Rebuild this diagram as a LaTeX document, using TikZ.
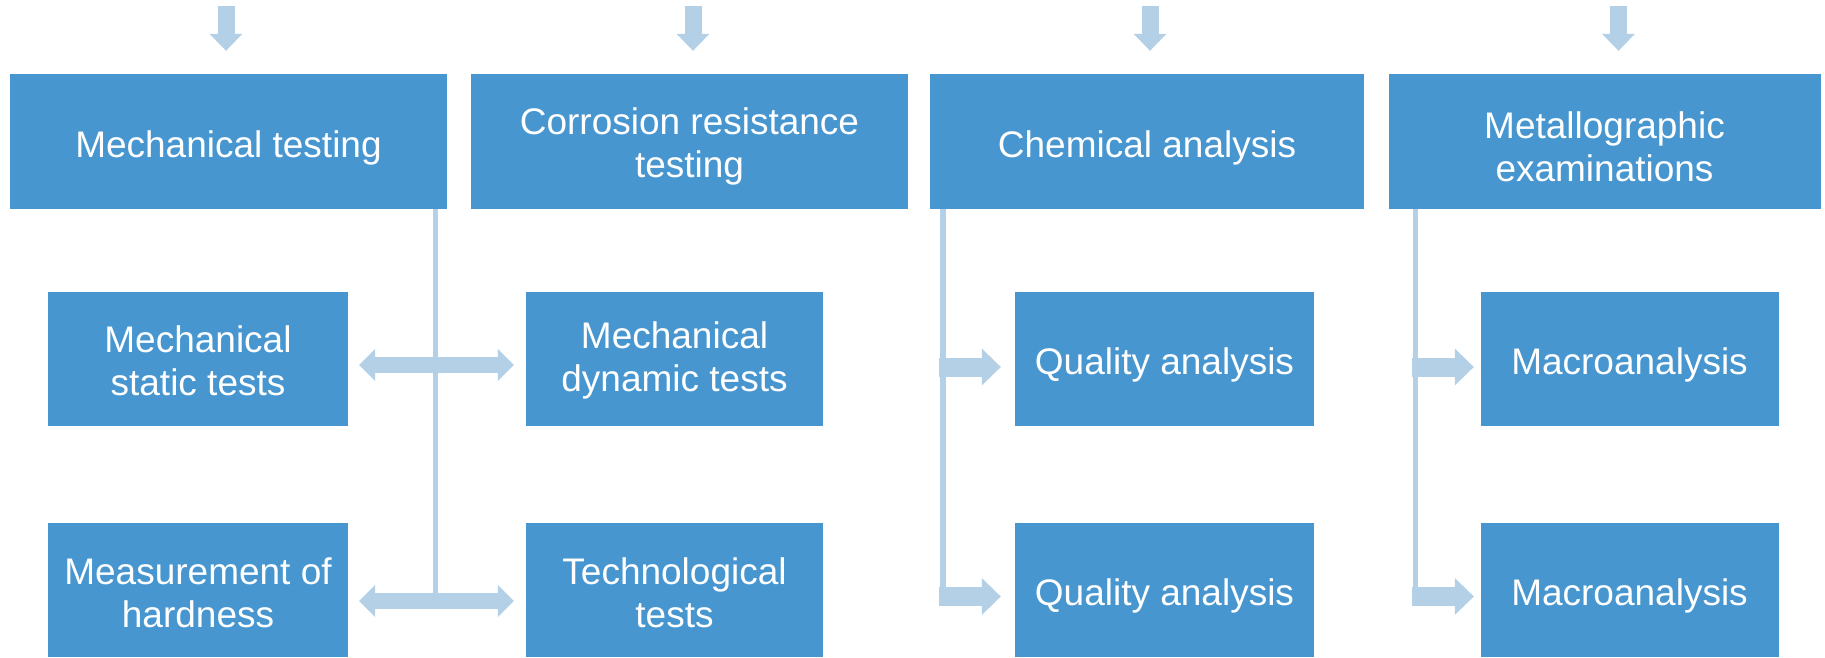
\documentclass[tikz,border=0pt]{standalone}
\usepackage{fontspec}
\setmainfont{Liberation Sans}
\usetikzlibrary{arrows.meta,calc}
\definecolor{boxblue}{HTML}{4796D0}
\definecolor{arrblue}{HTML}{B4D0E6}
\begin{document}
\begin{tikzpicture}[x=1pt,y=-1pt,
  box/.style={fill=boxblue, draw=none, inner sep=0pt},
  txt/.style={text=white, align=center, inner sep=0pt,
    font=\fontsize{37}{43}\selectfont},
  topbox/.style={box, minimum width=437pt, minimum height=135pt},
  subbox/.style={box, minimum width=299pt, minimum height=134pt},
  downarr/.style={draw=arrblue, line width=17pt,
    -{Triangle[length=17pt,width=33pt,line width=0pt,color=arrblue]}},
  dblarr/.style={draw=arrblue, line width=16pt,
    {Triangle[length=16pt,width=32pt,line width=0pt,color=arrblue]}-{Triangle[length=16pt,width=32pt,line width=0pt,color=arrblue]}},
  rarr/.style={draw=arrblue, line width=19pt,
    -{Triangle[length=19pt,width=37pt,line width=0pt,color=arrblue]}},
  vline/.style={draw=arrblue, line width=5.3pt}
]
\useasboundingbox (0,0) rectangle (1825,658);

% top row
\node[topbox, label={[txt,yshift=-6pt]center:{Mechanical testing}}] (t1) at (228.5,141.5) {};
\node[topbox, label={[txt,yshift=-5pt]center:{Corrosion resistance\\testing}}] (t2) at (689.5,141.5) {};
\node[topbox, minimum width=434pt, label={[txt,yshift=-6pt]center:{Chemical analysis}}] (t3) at (1147,141.5) {};
\node[topbox, minimum width=432pt, label={[txt,yshift=-5pt]center:{Metallographic\\examinations}}] (t4) at (1604.5,141.5) {};

% middle row
\node[subbox, minimum width=300pt, label={[txt,yshift=-1.5pt]center:{Mechanical\\static tests}}] (m1) at (198,359) {};
\node[subbox, minimum width=297pt, label={[txt,yshift=-1.5pt]center:{Mechanical\\dynamic tests}}] (m2) at (674.5,359) {};
\node[subbox, label={[txt,yshift=-5.5pt]center:{Quality analysis}}] (m3) at (1164.5,359) {};
\node[subbox, minimum width=298pt, label={[txt,yshift=-5.5pt]center:{Macroanalysis}}] (m4) at (1629.5,359) {};

% bottom row
\node[subbox, minimum width=300pt, label={[txt,yshift=-2.5pt]center:{Measurement of\\hardness}}] (b1) at (198,590) {};
\node[subbox, minimum width=297pt, label={[txt,yshift=-2.5pt]center:{Technological\\tests}}] (b2) at (674.5,590) {};
\node[subbox, label={[txt,yshift=-5.5pt]center:{Quality analysis}}] (b3) at (1164.5,590) {};
\node[subbox, minimum width=298pt, label={[txt,yshift=-5.5pt]center:{Macroanalysis}}] (b4) at (1629.5,590) {};

% top incoming arrows
\coordinate (a1s) at ($(t1.north)+(-2.5,-68)$);
\coordinate (a1e) at ($(t1.north)+(-2.5,-23)$);
\coordinate (a2s) at ($(t2.north)+(3.5,-68)$);
\coordinate (a2e) at ($(t2.north)+(3.5,-23)$);
\coordinate (a3s) at ($(t3.north)+(3,-68)$);
\coordinate (a3e) at ($(t3.north)+(3,-23)$);
\coordinate (a4s) at ($(t4.north)+(14,-68)$);
\coordinate (a4e) at ($(t4.north)+(14,-23)$);
\draw[downarr] (a1s) -- (a1e);
\draw[downarr] (a2s) -- (a2e);
\draw[downarr] (a3s) -- (a3e);
\draw[downarr] (a4s) -- (a4e);

% column 1: trunk and double arrows
\coordinate (v1) at ($(t1.south east)+(-11.5,0)$);
\coordinate (v1e) at ($(v1)+(0,392)$);
\draw[vline, line width=5pt] (v1) -- (v1e);
\draw[dblarr] ($(m1.east)+(11,6)$) -- ($(m2.west)+(-12,6)$);
\draw[dblarr] ($(b1.east)+(11,11)$) -- ($(b2.west)+(-12,11)$);

% column 3
\coordinate (v3) at ($(t3.south west)+(13.3,0)$);
\coordinate (v3e) at ($(v3)+(0,387.5)$);
\draw[vline] (v3) -- (v3e);
\draw[rarr] ($(m3.west)+(-76,8)$) -- ($(m3.west)+(-14,8)$);
\draw[rarr] ($(b3.west)+(-76,6.5)$) -- ($(b3.west)+(-14,6.5)$);

% column 4
\coordinate (v4) at ($(t4.south west)+(27,0)$);
\coordinate (v4e) at ($(v4)+(0,387.5)$);
\draw[vline] (v4) -- (v4e);
\draw[rarr] ($(m4.west)+(-68.5,8)$) -- ($(m4.west)+(-6.5,8)$);
\draw[rarr] ($(b4.west)+(-68.5,6.5)$) -- ($(b4.west)+(-6.5,6.5)$);
\end{tikzpicture}
\end{document}
